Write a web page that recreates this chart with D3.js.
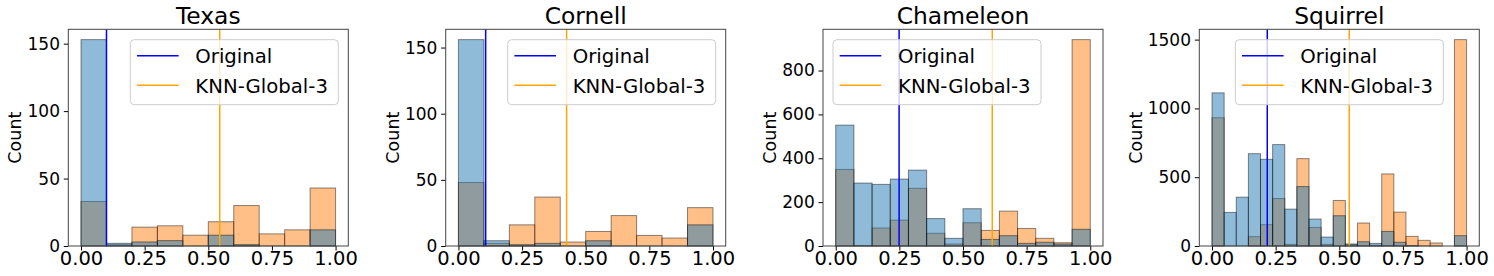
<!DOCTYPE html>
<html>
<head>
<meta charset="utf-8">
<script src="https://cdn.jsdelivr.net/npm/d3@7"></script>
<style>
  html, body { margin: 0; padding: 0; background: #fff; }
  svg { display: block; font-family: "DejaVu Sans", sans-serif; }
</style>
</head>
<body>
<svg id="chart" width="1494" height="276"></svg>
<script>
// ---------------- data ----------------
const datasets = ["Texas", "Cornell", "Chameleon", "Squirrel"];
const seriesNames = ["Original", "KNN-Global-3"];

// histogram counts per bin (bins split [0,1] evenly)
const texasOriginal = [153, 2, 3, 4, 0, 8, 1, 0, 0, 12];
const texasKnn      = [33, 1, 14, 15, 8, 18, 30, 9, 12, 43];

const cornellOriginal = [156, 4, 1, 2, 0, 4, 0, 0, 0, 16];
const cornellKnn      = [48, 2, 16, 37, 3, 11, 23, 8, 6, 29];

const chameleonOriginal = [551, 287, 281, 305, 346, 125, 35, 170, 30, 47, 12, 17, 9, 76];
const chameleonKnn      = [349, 2, 82, 118, 263, 58, 9, 106, 71, 159, 80, 35, 15, 941];

const squirrelOriginal = [1113, 244, 355, 671, 630, 737, 268, 432, 196, 65, 220, 15, 31, 19, 106, 27, 3, 0, 0, 0, 75];
const squirrelKnn      = [932, 0, 0, 68, 155, 345, 12, 635, 135, 12, 331, 10, 167, 5, 524, 246, 70, 41, 22, 0, 1500];

// vertical reference lines (means)
const originalMeans = [0.100, 0.107, 0.249, 0.217];
const knnMeans      = [0.545, 0.425, 0.615, 0.539];

// tick labels
const xTicks = [0, 0.25, 0.5, 0.75, 1.0];
const texasYTicks = [0, 50, 100, 150];
const cornellYTicks = [0, 50, 100, 150];
const chameleonYTicks = [0, 200, 400, 600, 800];
const squirrelYTicks = [0, 500, 1000, 1500];

const originalSeries = [texasOriginal, cornellOriginal, chameleonOriginal, squirrelOriginal];
const knnSeries = [texasKnn, cornellKnn, chameleonKnn, squirrelKnn];
const yTickSets = [texasYTicks, cornellYTicks, chameleonYTicks, squirrelYTicks];

// ---------------- layout ----------------
const panelLeft = [68.3, 445.7, 823, 1199.3];
const panelTop = 29.3, panelW = 280, panelH = 216.7;
const legendLoc = ["right", "right", "left", "center"];
const legendW = 208, legendH = 65;

const colOrigFill = "#1f77b4", colKnnFill = "#ff7f0e";
const colOrigLine = "blue", colKnnLine = "orange";

const svg = d3.select("#chart");

datasets.forEach((name, i) => {
  const left = panelLeft[i];
  const g = svg.append("g");
  const orig = originalSeries[i], knn = knnSeries[i];
  const n = orig.length;
  const ymax = d3.max(orig.concat(knn)) * 1.05;

  const x = d3.scaleLinear().domain([-0.05, 1.05]).range([left, left + panelW]);
  const y = d3.scaleLinear().domain([0, ymax]).range([panelTop + panelH, panelTop]);

  function drawBars(vals, fill) {
    g.append("g").selectAll("rect")
      .data(vals.map((v, k) => ({v, k})))
      .join("rect")
      .attr("x", d => x(d.k / n))
      .attr("width", d => x((d.k + 1) / n) - x(d.k / n))
      .attr("y", d => y(d.v))
      .attr("height", d => y(0) - y(d.v))
      .attr("fill", fill)
      .attr("fill-opacity", 0.5)
      .attr("stroke", "#000")
      .attr("stroke-opacity", 0.45)
      .attr("stroke-width", 1);
  }
  drawBars(knn, colKnnFill);
  drawBars(orig, colOrigFill);

  // mean lines
  [[originalMeans[i], colOrigLine], [knnMeans[i], colKnnLine]].forEach(([m, c]) => {
    g.append("line")
      .attr("x1", x(m)).attr("x2", x(m))
      .attr("y1", panelTop).attr("y2", panelTop + panelH)
      .attr("stroke", c).attr("stroke-width", 1.5);
  });

  // axes
  const xAxis = d3.axisBottom(x).tickValues(xTicks).tickFormat(d3.format(".2f")).tickSize(4.5).tickPadding(1);
  const gx = g.append("g").attr("transform", `translate(0,${panelTop + panelH})`).call(xAxis);
  const yAxis = d3.axisLeft(y).tickValues(yTickSets[i]).tickFormat(d3.format("d")).tickSize(4.5).tickPadding(3.8);
  const gy = g.append("g").attr("transform", `translate(${left},0)`).call(yAxis);
  [gx, gy].forEach(a => {
    a.select(".domain").remove();
    a.selectAll("text").attr("font-family", "DejaVu Sans").attr("fill", "#000");
    a.selectAll("line").attr("stroke", "#000").attr("stroke-width", 1);
  });
  gx.selectAll("text").attr("font-size", 19.5);
  gy.selectAll("text").attr("font-size", 17);

  // frame
  g.append("rect")
    .attr("x", left).attr("y", panelTop)
    .attr("width", panelW).attr("height", panelH)
    .attr("fill", "none").attr("stroke", "#444").attr("stroke-width", 1);

  // title
  g.append("text")
    .attr("x", left + panelW / 2).attr("y", 24)
    .attr("text-anchor", "middle").attr("font-size", 23.4)
    .text(name);

  // y label
  const tickW = d3.max(gy.selectAll("text").nodes(), t => t.getBBox().width);
  const lx = left - 4.5 - 3.8 - tickW - 6.2;
  g.append("text")
    .attr("transform", `translate(${lx},${panelTop + panelH / 2}) rotate(-90)`)
    .attr("text-anchor", "middle").attr("font-size", 17.5)
    .text("Count");

  // legend
  let bl;
  if (legendLoc[i] === "right") bl = left + panelW - 10 - legendW;
  else if (legendLoc[i] === "left") bl = left + 10;
  else bl = left + panelW / 2 - legendW / 2;
  const bt = panelTop + 10.4;
  const lg = g.append("g");
  lg.append("rect")
    .attr("x", bl).attr("y", bt).attr("width", legendW).attr("height", legendH)
    .attr("rx", 4).attr("fill", "#fff").attr("fill-opacity", 0.8)
    .attr("stroke", "#ccc").attr("stroke-width", 1);
  const rows = [[seriesNames[0], colOrigLine, bt + 16], [seriesNames[1], colKnnLine, bt + 45.6]];
  rows.forEach(([label, c, cy]) => {
    lg.append("line")
      .attr("x1", bl + 6.7).attr("x2", bl + 48.3)
      .attr("y1", cy).attr("y2", cy)
      .attr("stroke", c).attr("stroke-width", 1.5);
    lg.append("text")
      .attr("x", bl + 65).attr("y", cy + 7.2)
      .attr("font-size", 19.7).text(label);
  });
});
</script>
</body>
</html>
